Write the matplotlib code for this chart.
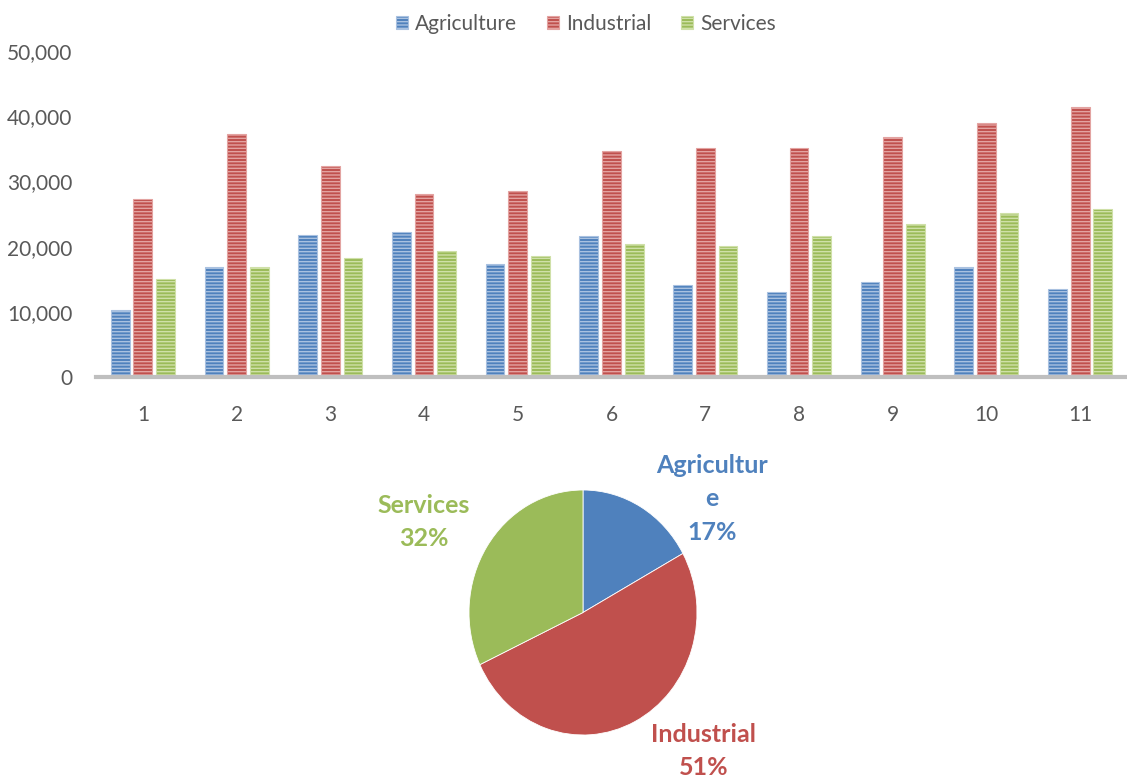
import matplotlib
matplotlib.use("Agg")
import matplotlib.pyplot as plt
import numpy as np

# bar chart data
periods = ["1", "2", "3", "4", "5", "6", "7", "8", "9", "10", "11"]
agriculture = [10300, 16800, 21800, 22200, 17400, 21600, 14100, 13000, 14500, 16800, 13500]
industrial = [27300, 37200, 32400, 28000, 28500, 34700, 35100, 35100, 36800, 38900, 41400]
services = [15100, 16800, 18200, 19300, 18500, 20400, 20100, 21600, 23500, 25200, 25800]

# pie chart shares
pie_labels = ["Agriculture", "Industrial", "Services"]
pie_shares = [17, 51, 32]
pie_texts = ["Agricultur\ne\n17%", "Industrial\n51%", "Services\n32%"]

BLUE = "#4f81bd"
RED = "#c0504d"
GREEN = "#9bbb59"
STRIPE = {BLUE: "#a9c1e0", RED: "#e3a3a1", GREEN: "#cfe0a8"}
TEXT = "#595959"

plt.rcParams["font.family"] = ["Lato", "DejaVu Sans"]
plt.rcParams["hatch.linewidth"] = 1.0

fig = plt.figure(figsize=(11.27, 7.79), dpi=100)

# ---- grouped bars ----
ax = fig.add_axes([96 / 1127, 1 - 377 / 779, 1031 / 1127, 326 / 779])
x = np.arange(1, len(periods) + 1)
off, w = 0.242, 0.2
series = [("Agriculture", agriculture, BLUE), ("Industrial", industrial, RED),
          ("Services", services, GREEN)]
for k, (name, vals, col) in enumerate(series):
    ax.bar(x + (k - 1) * off, vals, width=w, color=col, edgecolor=STRIPE[col],
           hatch="-----", linewidth=0.8, label=name, zorder=2)

ax.set_xlim(0.5, 11.5)
ax.set_ylim(0, 50000)
ax.set_yticks(range(0, 50001, 10000))
ax.yaxis.set_major_formatter(matplotlib.ticker.FuncFormatter(lambda v, _: f"{v:,.0f}"))
ax.set_xticks(x)
ax.set_xticklabels(periods)
ax.tick_params(axis="both", length=0, labelsize=15, labelcolor=TEXT)
ax.tick_params(axis="y", pad=17)
ax.tick_params(axis="x", pad=20)
for s in ["top", "right", "left"]:
    ax.spines[s].set_visible(False)
ax.spines["bottom"].set_color("#bfbfbf")
ax.spines["bottom"].set_linewidth(3)

fig.legend(loc="upper center", bbox_to_anchor=(0.52, 1.006), ncol=3, frameon=False,
           fontsize=15, labelcolor=TEXT, handlelength=0.6, handleheight=0.6,
           handletextpad=0.35, columnspacing=1.4)

# ---- pie ----
pax = fig.add_axes([469 / 1127, 1 - 735 / 779, 228 / 1127, 245 / 779])
pax.pie(pie_shares, colors=[BLUE, RED, GREEN], startangle=90, counterclock=False,
        radius=1, wedgeprops=dict(edgecolor="white", linewidth=0.6))
pax.set_aspect("auto")
pax.set_xlim(-1, 1)
pax.set_ylim(-1, 1)

label_pos = [(1.13, 0.93), (1.06, -1.13), (-1.40, 0.74)]
for txt, (lx, ly), col in zip(pie_texts, label_pos, [BLUE, RED, GREEN]):
    pax.text(lx, ly, txt, color=col, fontsize=18, fontweight="bold",
             ha="center", va="center", linespacing=1.55, clip_on=False)

fig.savefig("out.png", dpi=100)
